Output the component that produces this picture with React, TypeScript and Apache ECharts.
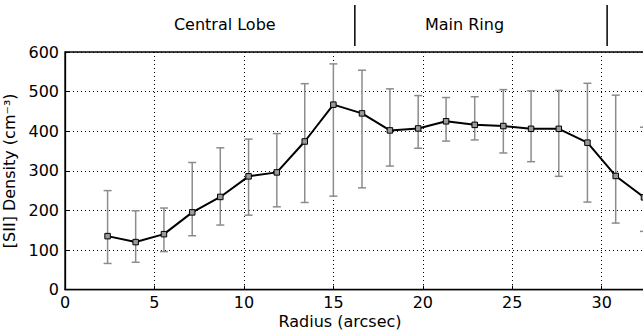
import React, { useEffect, useRef } from "react";
import * as echarts from "echarts";

const radius = [2.38, 3.95, 5.53, 7.11, 8.68, 10.26, 11.84, 13.4, 15.0, 16.6, 18.16, 19.74, 21.3, 22.9, 24.5, 26.05, 27.6, 29.2, 30.78, 32.36];
const density = [135, 120, 140, 195, 234, 286, 296, 374, 467, 445, 402, 407, 425, 416, 413, 406, 406, 371, 287, 233];
const upper = [250, 199, 206, 321, 358, 380, 394, 520, 570, 554, 507, 490, 485, 487, 505, 502, 503, 521, 491, 410];
const lower = [66, 69, 96, 136, 163, 188, 209, 220, 236, 257, 312, 357, 375, 378, 345, 323, 286, 221, 168, 147];

const regionBounds = [16.2, 30.3];
const regionLabels = ["Central Lobe", "Main Ring"];
const regionLabelCenters = [8.93, 22.33];

const FONT = "DejaVu Sans";
const FS = 16;

export default function App() {
  const ref = useRef<HTMLDivElement>(null);
  useEffect(() => {
    if (!ref.current) return;
    const chart = echarts.init(ref.current, null, { renderer: "svg" });
    const lineData = radius.map((x, i) => [x, density[i]]);
    const errData = radius.map((x, i) => [x, lower[i], upper[i]]);
    chart.setOption({
      animation: false,
      backgroundColor: "#fff",
      grid: {
        left: 65,
        top: 52,
        right: 8.8,
        bottom: 44.4,
        outerBoundsMode: "none",
        containLabel: false,
        show: true,
        borderColor: "#000",
        borderWidth: 1.3,
        backgroundColor: "transparent",
      },
      xAxis: {
        type: "value",
        min: 0,
        max: 35,
        interval: 5,
        axisLine: { show: true, lineStyle: { color: "#000", width: 1.3 } },
        axisTick: { show: true, inside: true, length: 4, lineStyle: { color: "#000" } },
        axisLabel: { color: "#000", fontFamily: FONT, fontSize: FS, margin: 5, showMaxLabel: false },
        splitLine: { show: true, lineStyle: { color: "#000", type: [1, 3], width: 1 } },
      },
      yAxis: {
        type: "value",
        min: 0,
        max: 600,
        interval: 100,
        name: "[SII] Density (cm⁻³)",
        nameLocation: "middle",
        nameGap: 38,
        nameTextStyle: { color: "#000", fontFamily: FONT, fontSize: FS },
        axisLine: { show: true, lineStyle: { color: "#000", width: 1.3 } },
        axisTick: { show: true, inside: true, length: 4, lineStyle: { color: "#000" } },
        axisLabel: { color: "#000", fontFamily: FONT, fontSize: FS, margin: 6 },
        splitLine: { show: true, lineStyle: { color: "#000", type: [1, 3], width: 1 } },
      },
      series: [
        {
          type: "custom",
          z: 1,
          data: errData,
          renderItem: (params: any, api: any) => {
            const x = api.value(0);
            const pLo = api.coord([x, api.value(1)]);
            const pHi = api.coord([x, api.value(2)]);
            const w = 4;
            const style = { stroke: "#8c8c8c", lineWidth: 1.5 };
            return {
              type: "group",
              children: [
                { type: "line", shape: { x1: pLo[0], y1: pLo[1], x2: pHi[0], y2: pHi[1] }, style },
                { type: "line", shape: { x1: pLo[0] - w, y1: pLo[1], x2: pLo[0] + w, y2: pLo[1] }, style },
                { type: "line", shape: { x1: pHi[0] - w, y1: pHi[1], x2: pHi[0] + w, y2: pHi[1] }, style },
              ],
            };
          },
        },
        {
          type: "line",
          z: 3,
          data: lineData,
          symbol: "rect",
          symbolSize: 5.5,
          lineStyle: { color: "#000", width: 2 },
          itemStyle: { color: "#9a9a9a", borderColor: "#000", borderWidth: 1 },
        },
      ],
    });

    const graphics: any[] = [];
    regionBounds.forEach((b) => {
      const px = chart.convertToPixel({ xAxisIndex: 0 }, b) as number;
      graphics.push({
        type: "line",
        shape: { x1: px, y1: 5, x2: px, y2: 46 },
        style: { stroke: "#000", lineWidth: 1.5 },
      });
    });
    regionLabels.forEach((t, i) => {
      const px = chart.convertToPixel({ xAxisIndex: 0 }, regionLabelCenters[i]) as number;
      graphics.push({
        type: "text",
        x: px,
        y: 24.5,
        style: {
          text: t,
          fill: "#000",
          font: `${FS}px "${FONT}"`,
          align: "center",
          verticalAlign: "middle",
        },
      });
    });
    graphics.push({
      type: "text",
      x: 340,
      y: 321.5,
      style: {
        text: "Radius (arcsec)",
        fill: "#000",
        font: `${FS}px "${FONT}"`,
        align: "center",
        verticalAlign: "middle",
      },
    });
    chart.setOption({ graphic: graphics });

    return () => chart.dispose();
  }, []);
  return (
    <div style={{ position: "fixed", left: 0, top: 0, width: 643, height: 334, overflow: "hidden" }}>
      <div ref={ref} style={{ width: 700, height: 334 }} />
    </div>
  );
}
